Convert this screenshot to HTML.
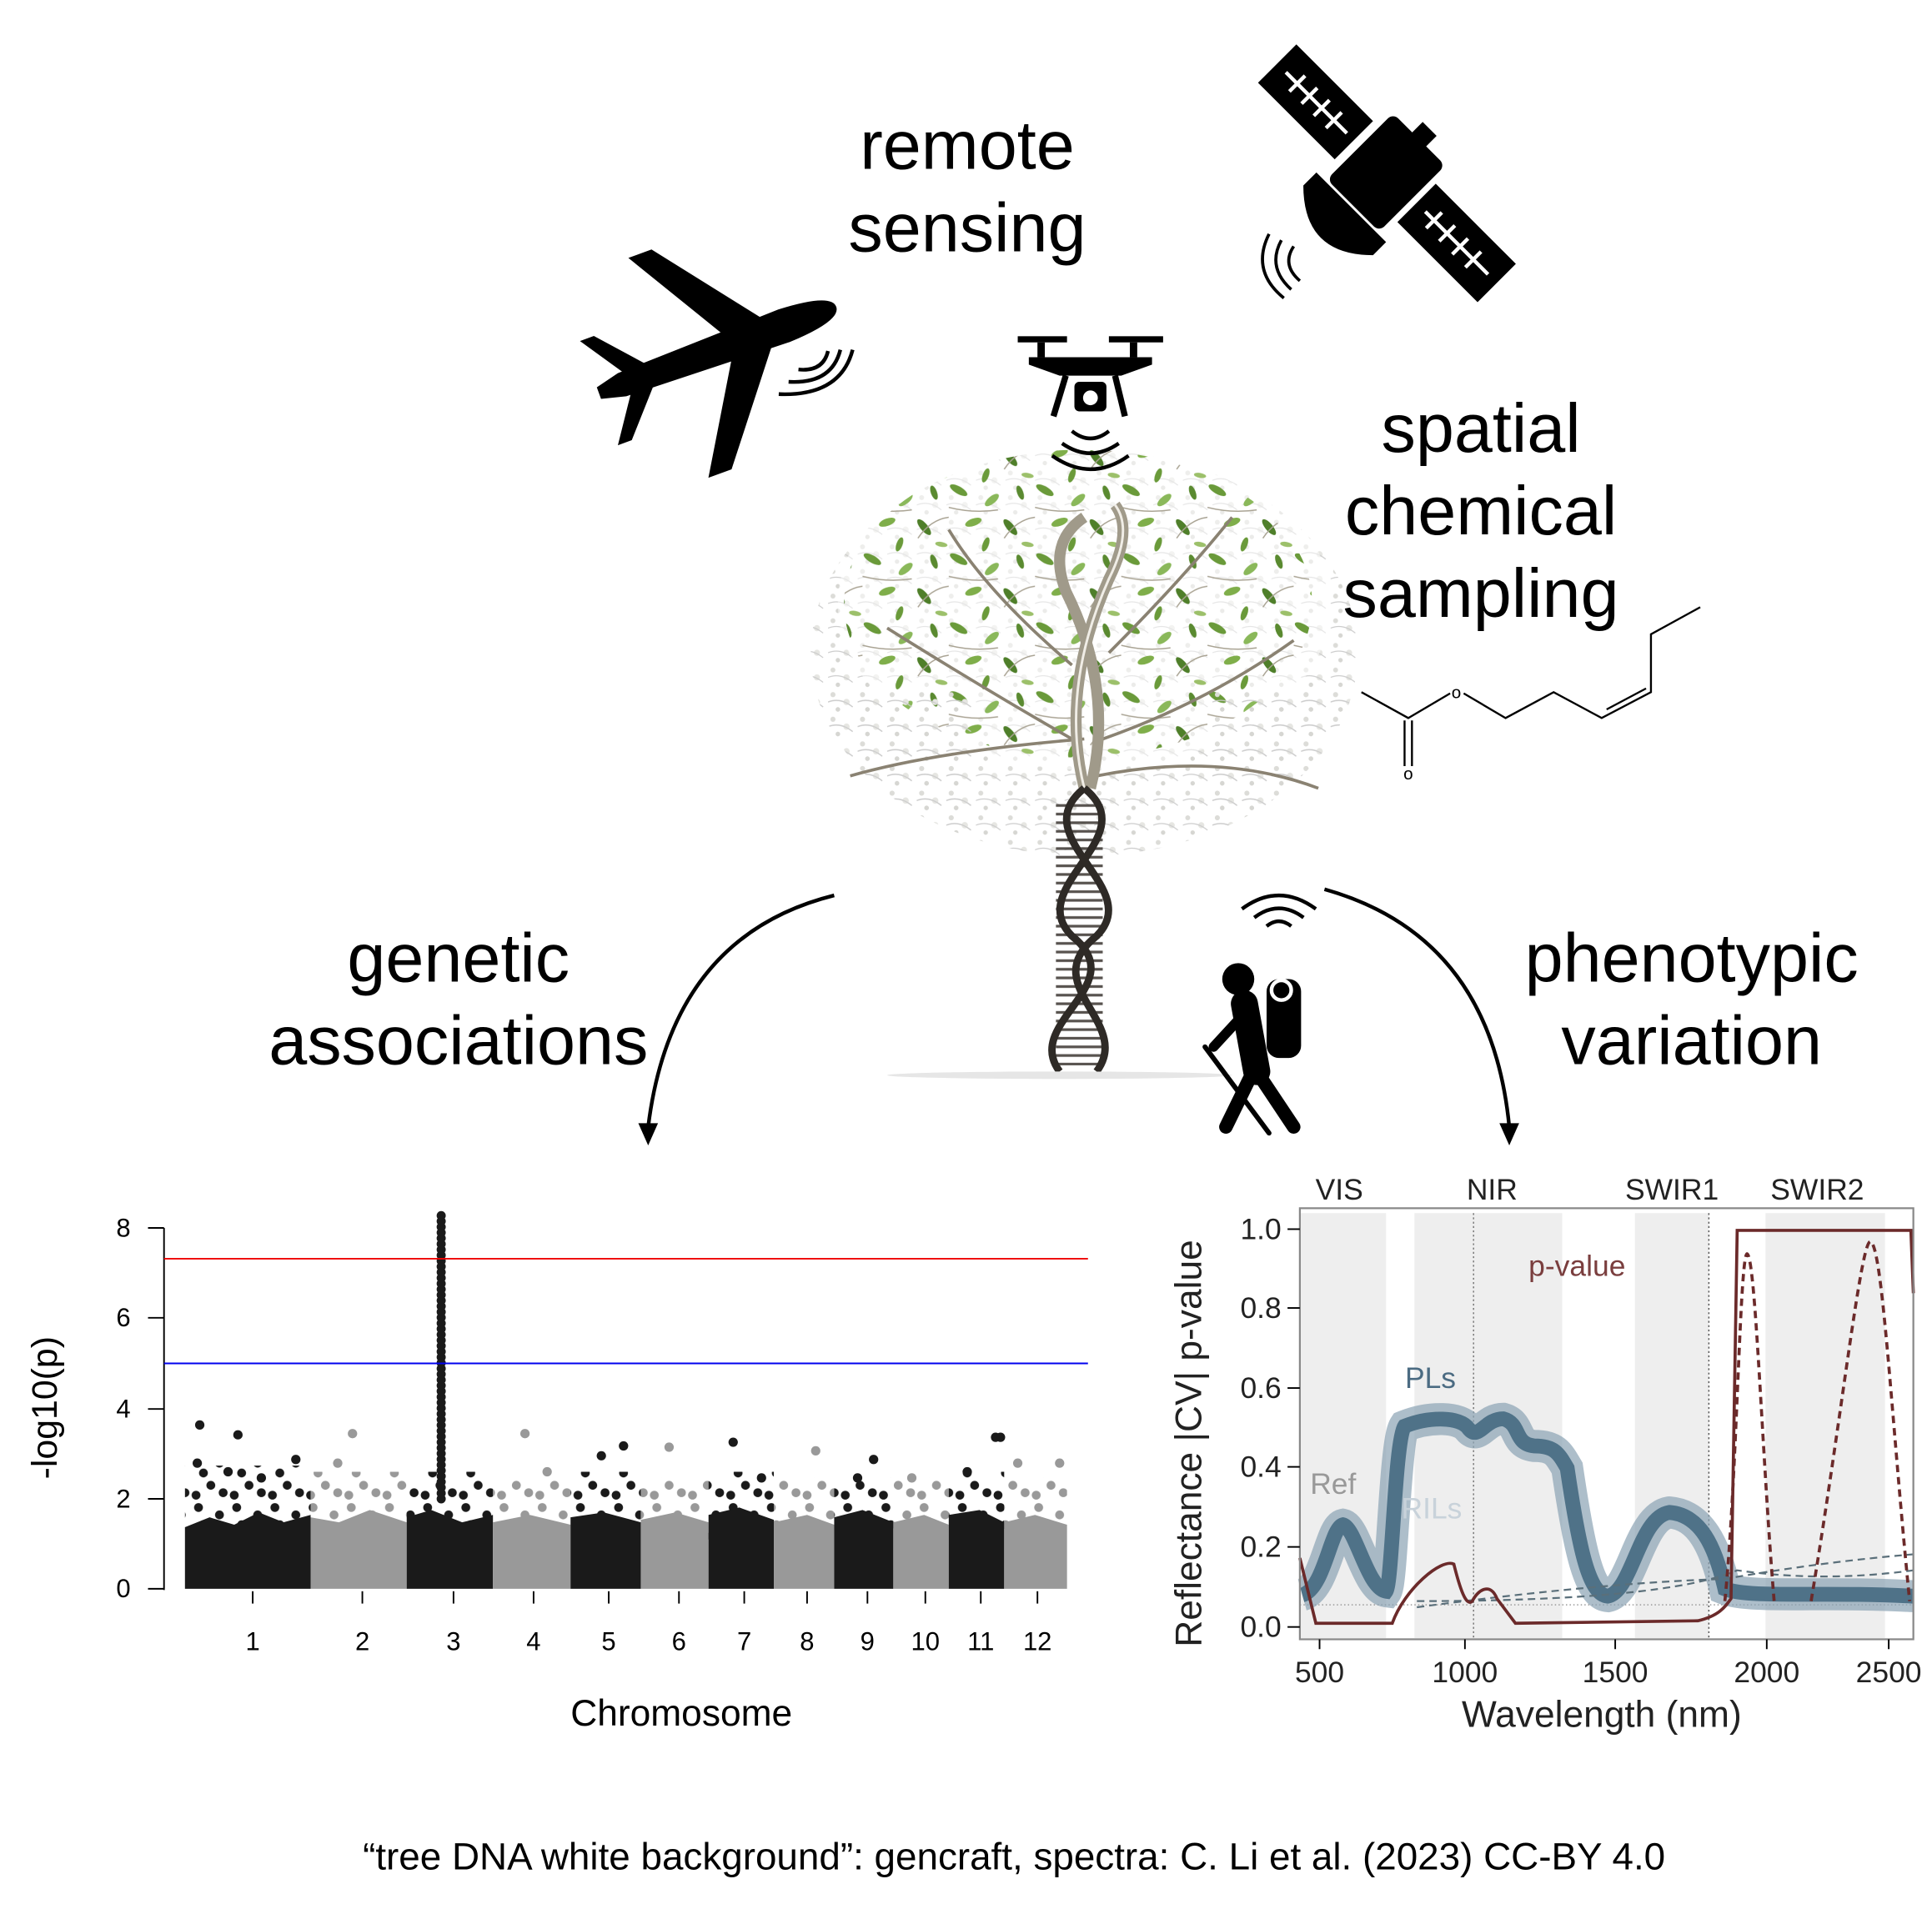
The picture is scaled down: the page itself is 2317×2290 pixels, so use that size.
<!DOCTYPE html>
<html><head><meta charset="utf-8">
<style>
html,body{margin:0;padding:0;background:#fff;}
svg{display:block;}
text{font-family:"Liberation Sans",Arial,sans-serif;}
</style></head>
<body>
<svg width="2317" height="2290" viewBox="0 0 1568 1550" xmlns="http://www.w3.org/2000/svg">
<defs>
<pattern id="lv" width="70" height="56" patternUnits="userSpaceOnUse">
<ellipse cx="8" cy="6" rx="8" ry="3" fill="#6a9a3a" transform="rotate(30 8 6)"/>
<ellipse cx="35" cy="14" rx="7" ry="3" fill="#8ab85a" transform="rotate(-40 35 14)"/>
<ellipse cx="58" cy="8" rx="6" ry="2.5" fill="#5a8a30" transform="rotate(70 58 8)"/>
<ellipse cx="20" cy="32" rx="7" ry="3" fill="#7fae4a" transform="rotate(-20 20 32)"/>
<ellipse cx="50" cy="36" rx="8" ry="3" fill="#4f7f2a" transform="rotate(50 50 36)"/>
<ellipse cx="64" cy="50" rx="5" ry="2" fill="#9cc06a" transform="rotate(10 64 50)"/>
<ellipse cx="30" cy="50" rx="6" ry="2.5" fill="#6a9a3a" transform="rotate(-70 30 50)"/>
<path d="M0 20 Q20 25 40 22 M45 45 Q55 30 70 28" stroke="#a9a393" stroke-width="1" fill="none"/>
</pattern>
<pattern id="wh" width="24" height="20" patternUnits="userSpaceOnUse">
<circle cx="4" cy="4" r="2" fill="#dcdcd8"/><circle cx="15" cy="10" r="2.5" fill="#e6e6e2"/><circle cx="8" cy="16" r="1.8" fill="#d6d6d2"/>
<path d="M0 10 Q10 6 20 14" stroke="#ccc" stroke-width="0.8" fill="none"/>
</pattern>
<pattern id="dk" width="31" height="42" patternUnits="userSpaceOnUse">
<circle cx="4" cy="38" r="3.6" fill="#1a1a1a"/><circle cx="16" cy="30" r="3.6" fill="#1a1a1a"/><circle cx="26" cy="36" r="3.6" fill="#1a1a1a"/><circle cx="10" cy="20" r="3.6" fill="#1a1a1a"/><circle cx="23" cy="12" r="3.6" fill="#1a1a1a"/><circle cx="6" cy="6" r="3.6" fill="#1a1a1a"/>
</pattern>
<pattern id="gy" width="31" height="42" patternUnits="userSpaceOnUse">
<circle cx="4" cy="38" r="3.6" fill="#999"/><circle cx="16" cy="30" r="3.6" fill="#999"/><circle cx="26" cy="36" r="3.6" fill="#999"/><circle cx="10" cy="20" r="3.6" fill="#999"/><circle cx="23" cy="12" r="3.6" fill="#999"/><circle cx="6" cy="6" r="3.6" fill="#999"/>
</pattern>
<pattern id="rg" width="10" height="7" patternUnits="userSpaceOnUse">
<line x1="0" y1="3" x2="10" y2="3" stroke="#3a3530" stroke-width="2.2"/>
</pattern>
<clipPath id="cp"><ellipse cx="880" cy="530" rx="222" ry="165"/></clipPath>
</defs>
<rect width="1568" height="1550" fill="#fff"/>

<g font-size="56" text-anchor="middle" fill="#000">
<text x="785" y="137">remote</text>
<text x="785" y="204">sensing</text>
<text x="1202" y="367">spatial</text>
<text x="1202" y="434">chemical</text>
<text x="1202" y="501">sampling</text>
<text x="372" y="797">genetic</text>
<text x="372" y="864">associations</text>
<text x="1373" y="797">phenotypic</text>
<text x="1373" y="864">variation</text>
</g>

<!-- satellite -->
<g transform="translate(1125,140) rotate(45)">
<rect x="-125" y="-22" width="88" height="44" fill="#000"/>
<rect x="35" y="-22" width="92" height="44" fill="#000"/>
<g stroke="#fff" stroke-width="3">
<line x1="-115" y1="0" x2="-45" y2="0"/><line x1="45" y1="0" x2="117" y2="0"/>
<line x1="-102" y1="-9" x2="-102" y2="9"/><line x1="-88" y1="-9" x2="-88" y2="9"/><line x1="-74" y1="-9" x2="-74" y2="9"/><line x1="-60" y1="-9" x2="-60" y2="9"/>
<line x1="55" y1="-9" x2="55" y2="9"/><line x1="70" y1="-9" x2="70" y2="9"/><line x1="85" y1="-9" x2="85" y2="9"/><line x1="100" y1="-9" x2="100" y2="9"/>
</g>
<rect x="-30" y="-38" width="60" height="76" rx="6" fill="#000"/>
<rect x="-8" y="-50" width="16" height="14" fill="#000"/>
<path d="M-40 40 L40 40 L40 55 Q0 95 -40 55 Z" fill="#000"/>
</g>
<g fill="none" stroke="#000" stroke-width="2.5">
<path d="M1050 200 Q1040 215 1055 228"/><path d="M1040 195 Q1028 217 1048 235"/><path d="M1030 190 Q1015 220 1042 242"/>
</g>

<!-- plane -->
<g transform="translate(580,285) rotate(-20)">
<path d="M-100 -5 L-80 -10 L60 -14 Q105 -12 105 0 Q105 12 60 14 L-80 10 L-100 5 Z" fill="#000"/>
<path d="M10 -12 L-40 -95 L-20 -95 L45 -12 Z" fill="#000"/>
<path d="M10 12 L-40 95 L-20 95 L45 12 Z" fill="#000"/>
<path d="M-75 -8 L-100 -45 L-88 -45 L-55 -8 Z" fill="#000"/>
<path d="M-75 8 L-100 45 L-88 45 L-55 8 Z" fill="#000"/>
</g>
<g fill="none" stroke="#000" stroke-width="3">
<path d="M648 300 Q668 302 672 285"/><path d="M640 310 Q675 312 682 284"/><path d="M632 320 Q682 322 692 284"/>
</g>

<!-- drone -->
<g fill="#000" stroke="#000">
<rect x="826" y="273" width="40" height="5" stroke="none"/><rect x="900" y="273" width="44" height="5" stroke="none"/>
<rect x="842" y="278" width="6" height="12" stroke="none"/><rect x="917" y="278" width="6" height="12" stroke="none"/>
<path d="M835 290 L935 290 L935 296 L910 305 L860 305 L835 296 Z" stroke="none"/>
<path d="M865 305 L855 338" stroke-width="5"/><path d="M905 305 L913 338" stroke-width="5"/>
<rect x="872" y="310" width="26" height="24" rx="4" stroke="none"/>
<circle cx="885" cy="323" r="6" fill="#fff" stroke="none"/>
</g>

<!-- molecule -->
<g stroke="#000" stroke-width="1.6" fill="none">
<path d="M1105 562 L1143 583 L1177 563"/>
<path d="M1188 563 L1222 583 L1261 562 L1300 583 L1340 562 L1340 515 L1380 493"/>
<path d="M1304 576 L1336 559"/>
<path d="M1140 585 L1140 622 M1146 585 L1146 622"/>
</g>
<text x="1182" y="567" font-size="14" text-anchor="middle">o</text>
<text x="1143" y="633" font-size="14" text-anchor="middle">o</text>

<!-- tree -->
<g clip-path="url(#cp)">
<rect x="650" y="360" width="460" height="340" fill="url(#wh)"/>
<ellipse cx="880" cy="490" rx="200" ry="135" fill="#fff" opacity="0.5"/>
<ellipse cx="875" cy="490" rx="190" ry="125" fill="url(#lv)"/>
<rect x="650" y="560" width="140" height="140" fill="url(#wh)"/>
<rect x="980" y="560" width="140" height="140" fill="url(#wh)"/>
</g>
<g fill="none" stroke="#8a8272" stroke-width="2.5">
<path d="M870 600 Q800 560 720 510"/><path d="M880 600 Q760 610 690 630"/>
<path d="M895 600 Q980 570 1050 520"/><path d="M890 630 Q990 610 1070 640"/>
<path d="M870 540 Q800 480 770 430"/><path d="M900 530 Q960 470 1000 420"/>
</g>
<g fill="none" stroke="#a09a8a" stroke-width="9">
<path d="M880 640 Q860 560 900 470 Q920 430 905 410"/>
<path d="M885 640 Q905 560 865 480 Q850 440 880 420"/>
</g>
<g fill="none" stroke="#f0ede6" stroke-width="2">
<path d="M880 640 Q860 560 900 470 Q920 430 905 410"/>
</g>
<rect x="857" y="650" width="38" height="215" fill="url(#rg)" opacity="0.85"/>
<g fill="none" stroke="#2e2a26" stroke-width="6">
<path d="M880 640 C930 680 830 720 870 760 C920 800 830 830 860 870"/>
<path d="M880 640 C830 680 930 720 890 760 C840 800 920 830 890 870"/>
</g>
<ellipse cx="860" cy="873" rx="140" ry="3" fill="#e6e6e6"/>
<g fill="none" stroke="#000" stroke-width="3">
<path d="M870 350 Q885 362 900 350"/><path d="M862 360 Q885 376 908 360"/><path d="M854 370 Q885 392 916 370"/>
</g>

<!-- hiker -->
<g fill="#000" stroke="#000" stroke-linecap="round">
<circle cx="1005" cy="795" r="13" stroke="none"/>
<rect x="1028" y="795" width="28" height="64" rx="10" stroke="none"/>
<circle cx="1040" cy="804" r="8" stroke="#fff" stroke-width="3"/>
<path d="M1010 815 L1020 870" stroke-width="22"/>
<path d="M1017 870 L995 915" stroke-width="11"/><path d="M1020 870 L1050 915" stroke-width="11"/>
<path d="M1008 825 L985 850" stroke-width="8"/>
<path d="M978 850 L1030 920" stroke-width="4"/>
</g>
<g fill="none" stroke="#000" stroke-width="3">
<path d="M1028 752 Q1038 744 1048 752"/><path d="M1018 745 Q1038 730 1058 745"/><path d="M1008 738 Q1038 716 1068 738"/>
</g>

<!-- arrows -->
<g fill="none" stroke="#000" stroke-width="3">
<path d="M677 727 Q545 760 526 915"/>
<path d="M1075 722 Q1210 760 1225 915"/>
</g>
<path d="M518 912 L526 930 L534 912 Z" fill="#000"/>
<path d="M1217 912 L1225 930 L1233 912 Z" fill="#000"/>

<!-- manhattan -->
<g>
<rect x="150" y="1190" width="102" height="60" fill="url(#dk)"/>
<rect x="252" y="1195" width="78" height="55" fill="url(#gy)"/>
<rect x="330" y="1195" width="70" height="55" fill="url(#dk)"/>
<rect x="400" y="1200" width="63" height="50" fill="url(#gy)"/>
<rect x="463" y="1195" width="57" height="55" fill="url(#dk)"/>
<rect x="520" y="1200" width="55" height="50" fill="url(#gy)"/>
<rect x="575" y="1195" width="53" height="55" fill="url(#dk)"/>
<rect x="628" y="1200" width="49" height="50" fill="url(#gy)"/>
<rect x="677" y="1200" width="48" height="50" fill="url(#dk)"/>
<rect x="725" y="1200" width="45" height="50" fill="url(#gy)"/>
<rect x="770" y="1195" width="45" height="55" fill="url(#dk)"/>
<rect x="815" y="1200" width="51" height="50" fill="url(#gy)"/>
<path d="M150 1290 L150 1240 L170 1232 L190 1238 L210 1228 L230 1236 L252 1230 L252 1290 Z" fill="#1a1a1a"/>
<path d="M252 1290 L252 1232 L275 1236 L300 1226 L330 1236 L330 1290 Z" fill="#999"/>
<path d="M330 1290 L330 1232 L350 1226 L375 1236 L400 1230 L400 1290 Z" fill="#1a1a1a"/>
<path d="M400 1290 L400 1236 L430 1230 L463 1238 L463 1290 Z" fill="#999"/>
<path d="M463 1290 L463 1232 L490 1228 L520 1236 L520 1290 Z" fill="#1a1a1a"/>
<path d="M520 1290 L520 1234 L548 1228 L575 1236 L575 1290 Z" fill="#999"/>
<path d="M575 1290 L575 1230 L600 1224 L628 1234 L628 1290 Z" fill="#1a1a1a"/>
<path d="M628 1290 L628 1236 L655 1230 L677 1238 L677 1290 Z" fill="#999"/>
<path d="M677 1290 L677 1232 L700 1226 L725 1236 L725 1290 Z" fill="#1a1a1a"/>
<path d="M725 1290 L725 1236 L750 1230 L770 1238 L770 1290 Z" fill="#999"/>
<path d="M770 1290 L770 1230 L795 1226 L815 1236 L815 1290 Z" fill="#1a1a1a"/>
<path d="M815 1290 L815 1236 L840 1230 L866 1238 L866 1290 Z" fill="#999"/>
<g fill="#1a1a1a">
<circle cx="162" cy="1157" r="3.8"/><circle cx="193" cy="1165" r="3.8"/><circle cx="160" cy="1188" r="3.8"/><circle cx="185" cy="1195" r="3.8"/><circle cx="240" cy="1185" r="3.8"/><circle cx="212" cy="1200" r="3.8"/>
<circle cx="488" cy="1182" r="3.8"/><circle cx="506" cy="1174" r="3.8"/><circle cx="595" cy="1171" r="3.8"/><circle cx="618" cy="1200" r="3.8"/>
<circle cx="709" cy="1185" r="3.8"/><circle cx="696" cy="1200" r="3.8"/><circle cx="808" cy="1167" r="3.8"/><circle cx="812" cy="1167" r="3.8"/><circle cx="785" cy="1195" r="3.8"/>
</g>
<g fill="#999">
<circle cx="286" cy="1164" r="3.8"/><circle cx="274" cy="1188" r="3.8"/><circle cx="426" cy="1164" r="3.8"/><circle cx="444" cy="1195" r="3.8"/><circle cx="543" cy="1175" r="3.8"/><circle cx="662" cy="1178" r="3.8"/><circle cx="826" cy="1188" r="3.8"/><circle cx="860" cy="1188" r="3.8"/><circle cx="740" cy="1200" r="3.8"/>
</g>
<line x1="358" y1="1217" x2="358" y2="983" stroke="#1a1a1a" stroke-width="7.4" stroke-linecap="round" stroke-dasharray="0,4.6"/>
</g>
<g stroke="#000" stroke-width="1.3">
<line x1="133" y1="997" x2="133" y2="1291"/>
<line x1="120" y1="997" x2="133" y2="997"/><line x1="120" y1="1070" x2="133" y2="1070"/><line x1="120" y1="1144" x2="133" y2="1144"/><line x1="120" y1="1217" x2="133" y2="1217"/><line x1="120" y1="1290" x2="133" y2="1290"/>
</g>
<g font-size="21" text-anchor="middle">
<text x="100" y="1004">8</text><text x="100" y="1077">6</text><text x="100" y="1151">4</text><text x="100" y="1224">2</text><text x="100" y="1297">0</text>
</g>
<line x1="133" y1="1022" x2="883" y2="1022" stroke="#e00" stroke-width="1.3"/>
<line x1="133" y1="1107" x2="883" y2="1107" stroke="#00e" stroke-width="1.3"/>
<g font-size="21" text-anchor="middle">
<text x="205" y="1340">1</text><text x="294" y="1340">2</text><text x="368" y="1340">3</text><text x="433" y="1340">4</text><text x="494" y="1340">5</text><text x="551" y="1340">6</text><text x="604" y="1340">7</text><text x="655" y="1340">8</text><text x="704" y="1340">9</text><text x="751" y="1340">10</text><text x="796" y="1340">11</text><text x="842" y="1340">12</text>
</g>
<g stroke="#000" stroke-width="1.3">
<line x1="205" y1="1292" x2="205" y2="1302"/><line x1="294" y1="1292" x2="294" y2="1302"/><line x1="368" y1="1292" x2="368" y2="1302"/><line x1="433" y1="1292" x2="433" y2="1302"/><line x1="494" y1="1292" x2="494" y2="1302"/><line x1="551" y1="1292" x2="551" y2="1302"/><line x1="604" y1="1292" x2="604" y2="1302"/><line x1="655" y1="1292" x2="655" y2="1302"/><line x1="704" y1="1292" x2="704" y2="1302"/><line x1="751" y1="1292" x2="751" y2="1302"/><line x1="796" y1="1292" x2="796" y2="1302"/><line x1="842" y1="1292" x2="842" y2="1302"/>
</g>
<text x="553" y="1401" font-size="30" text-anchor="middle">Chromosome</text>
<text transform="translate(46,1143) rotate(-90)" font-size="29" text-anchor="middle">-log10(p)</text>

<!-- spectra -->
<g>
<rect x="1055" y="981" width="498" height="350" fill="#fff"/>
<rect x="1055" y="985" width="70" height="345" fill="#eeeeee"/>
<rect x="1148" y="985" width="120" height="345" fill="#eeeeee"/>
<rect x="1327" y="985" width="60" height="345" fill="#eeeeee"/>
<rect x="1433" y="985" width="97" height="345" fill="#eeeeee"/>
<line x1="1196" y1="985" x2="1196" y2="1330" stroke="#777" stroke-dasharray="1.5,2"/>
<line x1="1387" y1="985" x2="1387" y2="1330" stroke="#555" stroke-dasharray="1.5,2"/>
<line x1="1055" y1="1303" x2="1553" y2="1303" stroke="#999" stroke-dasharray="1,2"/>
<path d="M1057 1295 C1075 1290 1080 1240 1090 1238 C1100 1240 1110 1290 1125 1292 C1130 1285 1132 1170 1140 1158 C1160 1150 1185 1150 1192 1160 C1200 1170 1205 1152 1220 1152 C1235 1156 1228 1172 1245 1174 C1262 1174 1265 1180 1272 1192 C1282 1260 1290 1295 1305 1296 C1325 1292 1330 1232 1355 1228 C1380 1230 1392 1255 1400 1290 C1420 1298 1480 1292 1553 1296" fill="none" stroke="#8aa3b4" stroke-width="26" stroke-opacity="0.7"/>
<path d="M1057 1295 C1075 1290 1080 1240 1090 1238 C1100 1240 1110 1290 1125 1292 C1130 1285 1132 1170 1140 1158 C1160 1150 1185 1150 1192 1160 C1200 1170 1205 1152 1220 1152 C1235 1156 1228 1172 1245 1174 C1262 1174 1265 1180 1272 1192 C1282 1260 1290 1295 1305 1296 C1325 1292 1330 1232 1355 1228 C1380 1230 1392 1255 1400 1290 C1420 1298 1480 1292 1553 1296" fill="none" stroke="#4f7288" stroke-width="12"/>
<g fill="none" stroke="#5a6f7a" stroke-width="1.5" stroke-dasharray="6,4">
<path d="M1150 1305 Q1300 1285 1400 1282 Q1480 1268 1553 1262"/>
<path d="M1150 1300 Q1350 1300 1410 1275 Q1480 1285 1553 1275"/>
</g>
<path d="M1055 1265 L1068 1318 L1130 1318 C1140 1290 1170 1265 1180 1270 C1185 1290 1190 1305 1195 1300 C1200 1290 1210 1285 1215 1298 L1230 1318 L1378 1316 C1395 1312 1400 1305 1405 1298 L1410 999 L1551 999 L1553 1050" fill="none" stroke="#6b2a2a" stroke-width="2.5"/>
<path d="M1400 1300 C1410 1200 1412 1020 1418 1018 C1425 1020 1430 1180 1440 1300 M1470 1300 C1495 1150 1510 1010 1518 1008 C1528 1010 1535 1150 1550 1300" fill="none" stroke="#6b2a2a" stroke-width="2.5" stroke-dasharray="6,4"/>
<rect x="1055" y="981" width="498" height="350" fill="none" stroke="#888" stroke-width="1.5"/>
<g stroke="#000" stroke-width="1.3">
<line x1="1045" y1="998" x2="1055" y2="998"/><line x1="1045" y1="1062" x2="1055" y2="1062"/><line x1="1045" y1="1127" x2="1055" y2="1127"/><line x1="1045" y1="1191" x2="1055" y2="1191"/><line x1="1045" y1="1256" x2="1055" y2="1256"/><line x1="1045" y1="1321" x2="1055" y2="1321"/>
<line x1="1071" y1="1331" x2="1071" y2="1339"/><line x1="1189" y1="1331" x2="1189" y2="1339"/><line x1="1311" y1="1331" x2="1311" y2="1339"/><line x1="1434" y1="1331" x2="1434" y2="1339"/><line x1="1533" y1="1331" x2="1533" y2="1339"/>
</g>
<g font-size="24" text-anchor="end" fill="#222">
<text x="1040" y="1006">1.0</text><text x="1040" y="1070">0.8</text><text x="1040" y="1135">0.6</text><text x="1040" y="1199">0.4</text><text x="1040" y="1264">0.2</text><text x="1040" y="1329">0.0</text>
</g>
<g font-size="24" text-anchor="middle" fill="#222">
<text x="1071" y="1366">500</text><text x="1189" y="1366">1000</text><text x="1311" y="1366">1500</text><text x="1434" y="1366">2000</text><text x="1533" y="1366">2500</text>
<text x="1087" y="974">VIS</text><text x="1211" y="974">NIR</text><text x="1357" y="974">SWIR1</text><text x="1475" y="974">SWIR2</text>
</g>
<text x="1300" y="1402" font-size="30" text-anchor="middle" fill="#222">Wavelength (nm)</text>
<text transform="translate(975,1172) rotate(-90)" font-size="30" text-anchor="middle" fill="#222">Reflectance |CV| p-value</text>
<text x="1280" y="1036" font-size="24" text-anchor="middle" fill="#7a3e3e">p-value</text>
<text x="1161" y="1127" font-size="24" text-anchor="middle" fill="#4b6b82">PLs</text>
<text x="1082" y="1213" font-size="24" text-anchor="middle" fill="#999">Ref</text>
<text x="1162" y="1233" font-size="24" text-anchor="middle" fill="#c8d2da">RILs</text>
</g>

<text x="823" y="1518" font-size="31" text-anchor="middle">“tree DNA white background”: gencraft, spectra: C. Li et al. (2023) CC-BY 4.0</text>
</svg>
</body></html>
